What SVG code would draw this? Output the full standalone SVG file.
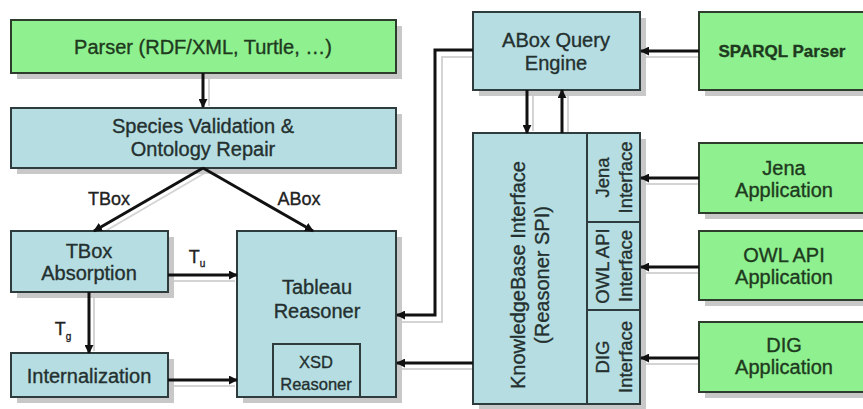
<svg xmlns="http://www.w3.org/2000/svg" width="863" height="409" viewBox="0 0 863 409">
<defs>
<style>
.shadow{fill:#c8c8c8}
.blue{fill:#b6dee2;stroke:#2e3c3e;stroke-width:2}
.green{fill:#8ef08e;stroke:#2e3c2e;stroke-width:2}
.sep{fill:none;stroke:#2e3c3e;stroke-width:2}
text{font-family:"Liberation Sans",Arial,sans-serif;font-size:20px;fill:#24302f;stroke:#24302f;stroke-width:0.35;text-anchor:middle}
.g text{fill:#1e3a1e;stroke:#1e3a1e}
.sm{font-size:18.5px}
.xs{font-size:16.5px}
.lbl{font-size:18px;fill:#222;stroke:#222}
.conn{fill:none;stroke:#111;stroke-width:3}
.cshadow{fill:none;stroke:#d4d4d4;stroke-width:2}
</style>
<marker id="ah" viewBox="0 0 10 10" refX="9" refY="5" markerWidth="9" markerHeight="9" markerUnits="userSpaceOnUse" orient="auto">
<path d="M0,0 L10,5 L0,10 z" fill="#111"/>
</marker>
</defs>
<rect width="863" height="409" fill="#ffffff"/>

<g id="connector-shadows">
<path class="cshadow" d="M209 73 V106"/>
<path class="cshadow" d="M210 170 L102 233"/>
<path class="cshadow" d="M94 292 V351"/>
<path class="cshadow" d="M168 281 H235"/>
<path class="cshadow" d="M168 386 H235"/>
<path class="cshadow" d="M473 57 H442 V322 H402"/>
<path class="cshadow" d="M473 369 H402"/>
<path class="cshadow" d="M533 90 V131"/>
<path class="cshadow" d="M568 135 V92"/>
<path class="cshadow" d="M699 57 H646"/>
<path class="cshadow" d="M699 184 H646"/>
<path class="cshadow" d="M699 273 H646"/>
<path class="cshadow" d="M699 364 H646"/>
</g>

<g id="shadows">
<rect class="shadow" x="17" y="26" width="385" height="53"/>
<rect class="shadow" x="17" y="114" width="385" height="60"/>
<rect class="shadow" x="17" y="237" width="157" height="61"/>
<rect class="shadow" x="17" y="359" width="157" height="44"/>
<rect class="shadow" x="243" y="237" width="159" height="166"/>
<rect class="shadow" x="479" y="18" width="167" height="78"/>
<rect class="shadow" x="479" y="139" width="167" height="271"/>
<rect class="shadow" x="705" y="18" width="170" height="78"/>
<rect class="shadow" x="705" y="149" width="170" height="70"/>
<rect class="shadow" x="705" y="237" width="170" height="69"/>
<rect class="shadow" x="705" y="328" width="170" height="70"/>
</g>

<g id="parser" class="g">
<rect class="green" x="11" y="20" width="385" height="53"/>
<text x="203" y="54">Parser (RDF/XML, Turtle, …)</text>
</g>

<g id="species-validation">
<rect class="blue" x="11" y="108" width="385" height="60"/>
<text x="203" y="133">Species Validation &amp;</text>
<text x="203" y="156">Ontology Repair</text>
</g>

<g id="tbox-absorption">
<rect class="blue" x="11" y="231" width="157" height="61"/>
<text x="89" y="258">TBox</text>
<text x="89" y="280">Absorption</text>
</g>

<g id="internalization">
<rect class="blue" x="11" y="353" width="157" height="44"/>
<text x="89" y="383">Internalization</text>
</g>

<g id="tableau-reasoner">
<rect class="blue" x="237" y="231" width="159" height="166"/>
<text x="317" y="294">Tableau</text>
<text x="317" y="318">Reasoner</text>
</g>

<g id="xsd-reasoner">
<rect class="blue" x="273" y="344" width="87" height="53"/>
<text class="xs" x="316" y="368">XSD</text>
<text class="xs" x="316" y="390">Reasoner</text>
</g>

<g id="abox-query-engine">
<rect class="blue" x="473" y="12" width="167" height="78"/>
<text x="556" y="47">ABox Query</text>
<text x="556" y="70">Engine</text>
</g>

<g id="knowledgebase-interface">
<rect class="blue" x="473" y="133" width="167" height="271"/>
<path class="sep" d="M587 133 V404 M587 222 H640 M587 310 H640"/>
<text transform="translate(525 275) rotate(-90)">KnowledgeBase Interface</text>
<text transform="translate(549 275) rotate(-90)">(Reasoner SPI)</text>
</g>

<g id="jena-interface">
<text class="sm" transform="translate(609 177.5) rotate(-90)">Jena</text>
<text class="sm" transform="translate(632 177.5) rotate(-90)">Interface</text>
</g>

<g id="owlapi-interface">
<text class="sm" transform="translate(609 266) rotate(-90)">OWL API</text>
<text class="sm" transform="translate(632 266) rotate(-90)">Interface</text>
</g>

<g id="dig-interface">
<text class="sm" transform="translate(609 357) rotate(-90)">DIG</text>
<text class="sm" transform="translate(632 357) rotate(-90)">Interface</text>
</g>

<g id="sparql-parser" class="g">
<rect class="green" x="699" y="12" width="170" height="78"/>
<text x="782" y="57" style="font-weight:bold;font-size:17px">SPARQL Parser</text>
</g>

<g id="jena-application" class="g">
<rect class="green" x="699" y="143" width="170" height="70"/>
<text x="784" y="175">Jena</text>
<text x="784" y="197">Application</text>
</g>

<g id="owlapi-application" class="g">
<rect class="green" x="699" y="231" width="170" height="69"/>
<text x="784" y="262">OWL API</text>
<text x="784" y="284">Application</text>
</g>

<g id="dig-application" class="g">
<rect class="green" x="699" y="322" width="170" height="70"/>
<text x="784" y="352">DIG</text>
<text x="784" y="374">Application</text>
</g>

<g id="connectors">
<path class="conn" d="M203 73 V107" marker-end="url(#ah)"/>
<path class="conn" d="M203 168 L94 231" marker-end="url(#ah)"/>
<path class="conn" d="M203 168 L313 231" marker-end="url(#ah)"/>
<path class="conn" d="M168 275 H237" marker-end="url(#ah)"/>
<path class="conn" d="M89 292 V353" marker-end="url(#ah)"/>
<path class="conn" d="M168 380 H237" marker-end="url(#ah)"/>
<path class="conn" d="M473 50 H435 V315 H397" marker-end="url(#ah)"/>
<path class="conn" d="M473 363 H397" marker-end="url(#ah)"/>
<path class="conn" d="M527 90 V133" marker-end="url(#ah)"/>
<path class="conn" d="M562 133 V90" marker-end="url(#ah)"/>
<path class="conn" d="M699 51 H641" marker-end="url(#ah)"/>
<path class="conn" d="M699 178 H641" marker-end="url(#ah)"/>
<path class="conn" d="M699 267 H641" marker-end="url(#ah)"/>
<path class="conn" d="M699 358 H641" marker-end="url(#ah)"/>
<text class="lbl" x="109" y="205">TBox</text>
<text class="lbl" x="299" y="205">ABox</text>
<text class="lbl" x="197" y="263">T<tspan font-size="10" dy="4">u</tspan></text>
<text class="lbl" x="63" y="335">T<tspan font-size="10" dy="5">g</tspan></text>
</g>
</svg>
